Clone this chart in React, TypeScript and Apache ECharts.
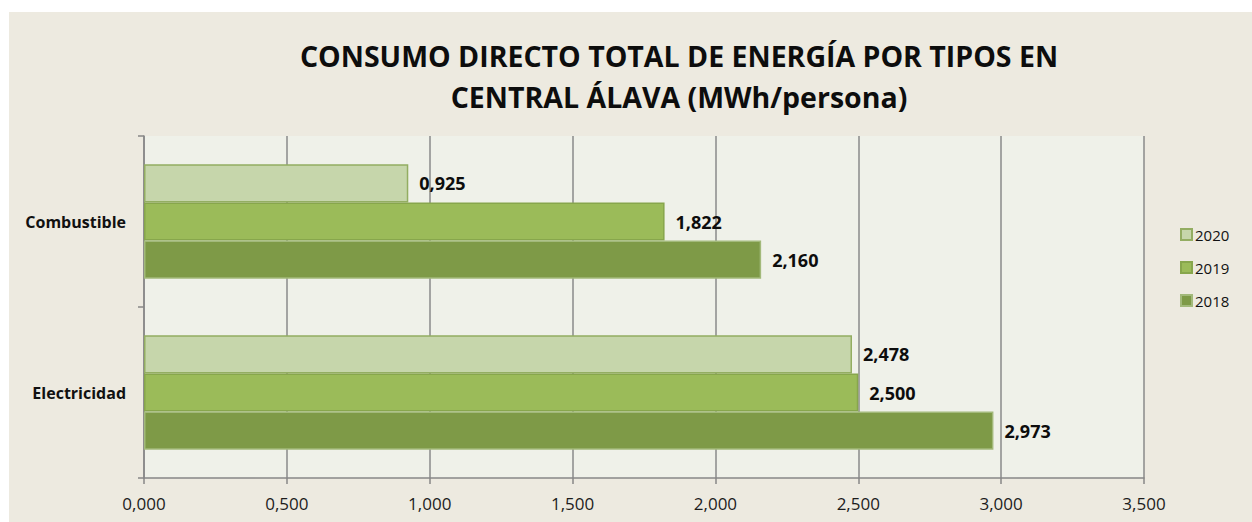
import React, { useEffect, useRef } from "react";
import * as echarts from "echarts";

const categories = ["Electricidad", "Combustible"];
const seriesNames = ["2020", "2019", "2018"];
const values2020 = [2.478, 0.925];
const values2019 = [2.5, 1.822];
const values2018 = [2.973, 2.16];
const xTicks = { min: 0, max: 3.5, interval: 0.5 };
const titleLines = ["CONSUMO DIRECTO TOTAL DE ENERGÍA POR TIPOS EN", "CENTRAL ÁLAVA (MWh/persona)"];

const fmt = (v: number) => v.toFixed(3).replace(".", ",");

export default function App() {
  const ref = useRef<HTMLDivElement>(null);
  useEffect(() => {
    if (!ref.current) return;
    const chart = echarts.init(ref.current, undefined, { renderer: "svg" });
    const font = "'Open Sans', sans-serif";
    const colors = ["#c6d6ab", "#9bbb59", "#7e9a47"];
    const borders = ["#93ad62", "#87a64c", "#a2b97a"];
    const dataSets = [values2020, values2019, values2018];
    chart.setOption({
      animation: false,
      backgroundColor: "#ffffff",
      textStyle: { fontFamily: font },
      graphic: [
        { type: "rect", z: -10, shape: { x: 9, y: 12, width: 1243, height: 510 }, style: { fill: "#edeae0" } },
        {
          type: "text", x: 679, y: 56, z: 10,
          style: { text: titleLines[0], font: `bold 28.5px ${font}`, fill: "#0d0d0d", textAlign: "center", textVerticalAlign: "middle" },
        },
        {
          type: "text", x: 679, y: 97, z: 10,
          style: { text: titleLines[1], font: `bold 28.5px ${font}`, fill: "#0d0d0d", textAlign: "center", textVerticalAlign: "middle" },
        },
      ],
      grid: { left: 144, top: 136, right: 108, bottom: 44, show: true, backgroundColor: "#eff1e9", borderWidth: 0 },
      legend: {
        orient: "vertical",
        left: 1175,
        top: 222,
        data: ["2020", "2019", "2018"],
        itemWidth: 11,
        itemHeight: 11,
        itemGap: 18,
        icon: "rect",
        textStyle: { fontSize: 15, color: "#111", fontFamily: font, padding: [0, 0, 0, -2] },
      },
      xAxis: {
        type: "value",
        min: xTicks.min,
        max: xTicks.max,
        interval: xTicks.interval,
        axisLine: { show: true, lineStyle: { color: "#878787", width: 1.5 } },
        axisTick: { show: true, length: 6, lineStyle: { color: "#878787", width: 1.5 } },
        splitLine: { show: true, lineStyle: { color: "#8a8a8a", width: 1.5 } },
        axisLabel: { formatter: (v: number) => fmt(v), fontSize: 17, color: "#1c1c1c", margin: 17, fontFamily: font },
      },
      yAxis: {
        type: "category",
        data: categories,
        axisLine: { show: true, lineStyle: { color: "#878787", width: 1.5 } },
        axisTick: { show: true, length: 6, lineStyle: { color: "#878787", width: 1.5 } },
        axisLabel: { fontSize: 16, fontWeight: "bold", color: "#111", margin: 18, fontFamily: font },
      },
      series: seriesNames.map((name, i) => ({
        name,
        type: "bar",
        data: dataSets[i],
        barGap: "0%",
        barCategoryGap: "33%",
        itemStyle: { color: colors[i], borderColor: borders[i], borderWidth: 1.5 },
        label: {
          show: true,
          position: "right",
          distance: 11,
          formatter: (p: any) => fmt(p.value),
          fontSize: 18,
          fontWeight: "bold",
          color: "#0d0d0d",
          fontFamily: font,
        },
      })),
    });
    return () => chart.dispose();
  }, []);
  return (
    <div style={{ position: "fixed", left: 0, top: 0, width: 1252, height: 522, background: "#fff" }}>
      <div ref={ref} style={{ width: 1252, height: 522 }} />
    </div>
  );
}
